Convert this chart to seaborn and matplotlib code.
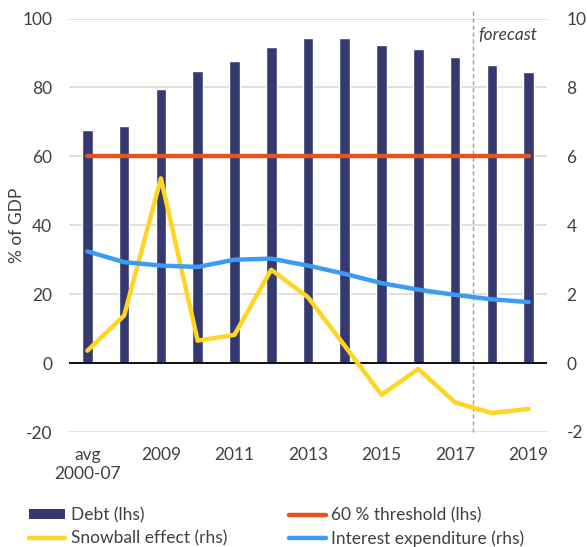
import numpy as np
import pandas as pd
import matplotlib
matplotlib.use("Agg")
import matplotlib.pyplot as plt
import seaborn as sns
from matplotlib.patches import Patch
from matplotlib.lines import Line2D

categories = ["avg\n2000-07", "2008", "2009", "2010", "2011", "2012", "2013",
              "2014", "2015", "2016", "2017", "2018", "2019"]
tick_labels = ["avg\n2000-07", "", "2009", "", "2011", "", "2013", "",
               "2015", "", "2017", "", "2019"]
debt = [67.6, 68.8, 79.4, 84.9, 87.6, 91.7, 94.2, 94.4, 92.4, 91.2, 88.9, 86.6, 84.4]
threshold = [60] * 13
snowball = [0.36, 1.38, 5.36, 0.65, 0.82, 2.71, 1.91, 0.50, -0.92, -0.17, -1.14, -1.45, -1.33]
interest = [3.24, 2.93, 2.83, 2.79, 3.00, 3.03, 2.83, 2.59, 2.32, 2.13, 1.98, 1.85, 1.77]

navy = "#343A70"
orange = "#E8521C"
yellow = "#FFD523"
blue = "#3D9BF3"
txt = "#404040"

sns.set_theme(style="white")
plt.rcParams["font.family"] = ["Lato", "DejaVu Sans"]
plt.rcParams["axes.unicode_minus"] = False

fig = plt.figure(figsize=(5.87, 5.47), dpi=100)
ax = fig.add_axes([69/587, 1-432/547, (547-69)/587, (432-18.5)/547])
ax2 = ax.twinx()

df = pd.DataFrame({"cat": categories, "debt": debt})
sns.barplot(data=df, x="cat", y="debt", color=navy, saturation=1, width=0.29, ax=ax, zorder=2)
pos = np.arange(len(categories))
sns.lineplot(x=pos, y=threshold, color=orange, lw=3.2, ax=ax, zorder=3, solid_capstyle="round")
sns.lineplot(x=pos, y=snowball, color=yellow, lw=3.2, ax=ax2, solid_capstyle="round")
sns.lineplot(x=pos, y=interest, color=blue, lw=3.2, ax=ax2, solid_capstyle="round")

ax.set_ylim(-20, 100)
ax2.set_ylim(-2, 10)
ax.set_xlim(-0.5, len(categories) - 0.5)
ax.set_yticks([-20, 0, 20, 40, 60, 80, 100])
ax2.set_yticks([-2, 0, 2, 4, 6, 8, 10])
ax.set_xticks(pos)
ax.set_xticklabels(tick_labels)
ax.grid(axis="y", color="#D9D9D9", lw=1.2, zorder=0)
ax.set_axisbelow(True)
ax.axhline(0, color="black", lw=1.3, zorder=2.5)
ax.axvline(10.5, ymin=0, ymax=1.02, color="#A0A0A0", ls=(0, (3, 2)), lw=1, clip_on=False, zorder=1)
ax.text(10.62, 95.3, "forecast", style="italic", color=txt, fontsize=12.5, va="center", ha="left")

for a in (ax, ax2):
    for s in a.spines.values():
        s.set_visible(False)
    a.tick_params(length=0, labelsize=12.5, colors=txt)
ax.tick_params(axis="y", pad=12)
ax2.tick_params(axis="y", pad=14)
ax.tick_params(axis="x", pad=11)
ax.set_xlabel("")
ax.set_ylabel("% of GDP", fontsize=12.5, color=txt)
ax.yaxis.set_label_coords((25 - 69) / 478, 0.50)
ax2.set_ylabel("")

handles = [Patch(facecolor=navy, edgecolor="none"),
           Line2D([], [], color=yellow, lw=3.2, solid_capstyle="round"),
           Line2D([], [], color=orange, lw=3.2, solid_capstyle="round"),
           Line2D([], [], color=blue, lw=3.2, solid_capstyle="round")]
labels = ["Debt (lhs)", "Snowball effect (rhs)", "60 % threshold (lhs)", "Interest expenditure (rhs)"]
fig.legend(handles, labels, ncol=2, loc="upper left", bbox_to_anchor=(22/587, 1-500/547),
           frameon=False, fontsize=12.5, handlelength=2.1, handleheight=0.5, handletextpad=0.3,
           columnspacing=3.6, labelspacing=0.4, labelcolor=txt, borderaxespad=0)

fig.savefig("out.png", dpi=100)
